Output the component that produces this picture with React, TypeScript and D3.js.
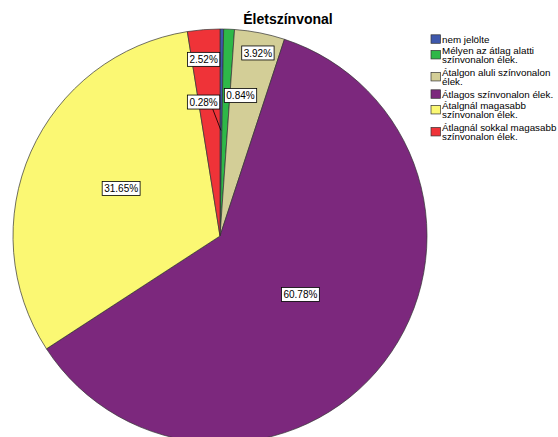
import React from "react";
import * as d3 from "d3";

const categories = [
  ["nem jelölte"],
  ["Mélyen az átlag alatti", "színvonalon élek."],
  ["Átalgon aluli színvonalon", "élek."],
  ["Átlagos színvonalon élek."],
  ["Átalgnál magasabb", "színvonalon élek."],
  ["Átlagnál sokkal magasabb", "színvonalon élek."],
];
const percents = [0.28, 0.84, 3.92, 60.78, 31.65, 2.52];
const labels = ["0.28%", "0.84%", "3.92%", "60.78%", "31.65%", "2.52%"];
const colors = ["#3E58AC", "#2EB848", "#D3CE97", "#7C287D", "#FBF873", "#EF3338"];
const title = "Életszínvonal";

// label placement (fraction of radius, angle in degrees clockwise from top)
const labelPlacement = [
  { r: 0.652, a: -7.0, leader: true },
  { r: 0.686, a: 8.3, leader: false },
  { r: 0.903, a: 11.7, leader: false },
  { r: 0.48, a: 126, leader: false },
  { r: 0.53, a: 295.7, leader: false },
  { r: 0.857, a: -5.3, leader: false },
];

const W = 558;
const H = 437;
const cx = 220;
const cy = 236;
const R = 207;

function textW(s: string) {
  let w = 0;
  for (const ch of s) {
    if (ch === ".") w += 2.78;
    else if (ch === "%") w += 8.9;
    else w += 5.56;
  }
  return w;
}

export default function App() {
  const pie = d3.pie<number>().sort(null).value((d) => d).startAngle(0).endAngle(2 * Math.PI);
  const arcs = pie(percents);
  const arc = d3.arc<d3.PieArcDatum<number>>().innerRadius(0).outerRadius(R);

  const legendX = 431;
  let ly = 39;
  const legendItems = categories.map((lines, i) => {
    const y0 = ly;
    ly += 11 * lines.length;
    return { lines, y0, i };
  });

  return (
    <svg width={W} height={H} style={{ position: "absolute", left: 0, top: 0, background: "#fff" }}
      fontFamily="'Liberation Sans', Arial, sans-serif">
      <text x={288} y={24} textAnchor="middle" fontSize={14} fontWeight="bold" fill="#000">{title}</text>
      <g transform={`translate(${cx},${cy})`}>
        {arcs.map((a, i) => (
          <path key={i} d={arc(a) || ""} fill={colors[i]} stroke="#333" strokeWidth={0.7} />
        ))}
        {arcs.map((a, i) => {
          const p = labelPlacement[i];
          const ang = (p.a * Math.PI) / 180;
          const x = R * p.r * Math.sin(ang);
          const y = -R * p.r * Math.cos(ang);
          const bw = textW(labels[i]) + 4;
          const bh = 14;
          const mid = (a.startAngle + a.endAngle) / 2;
          const lx = R * 0.51 * Math.sin(mid);
          const lyy = -R * 0.51 * Math.cos(mid);
          return (
            <g key={"l" + i}>
              {p.leader && (
                <line x1={x + bw / 2 - 7} y1={y + bh / 2} x2={lx} y2={lyy} stroke="#000" strokeWidth={0.8} />
              )}
              <rect x={x - bw / 2} y={y - bh / 2} width={bw} height={bh} fill="#fff" stroke="#000" strokeWidth={0.8} />
              <text x={x} y={y + 3.6} textAnchor="middle" fontSize={10} fill="#000">{labels[i]}</text>
            </g>
          );
        })}
      </g>
      <g>
        {legendItems.map(({ lines, y0, i }) => {
          const lineSp = 9.3;
          const midY = y0 + ((lines.length - 1) * lineSp) / 2;
          return (
            <g key={"lg" + i}>
              <rect x={legendX} y={midY - 4.2} width={9.5} height={8.5} fill={colors[i]} stroke="#333" strokeWidth={0.7} />
              {lines.map((t, k) => (
                <text key={k} x={442} y={y0 + k * lineSp + 3.5} fontSize={9.8} fill="#000">{t}</text>
              ))}
            </g>
          );
        })}
      </g>
    </svg>
  );
}
